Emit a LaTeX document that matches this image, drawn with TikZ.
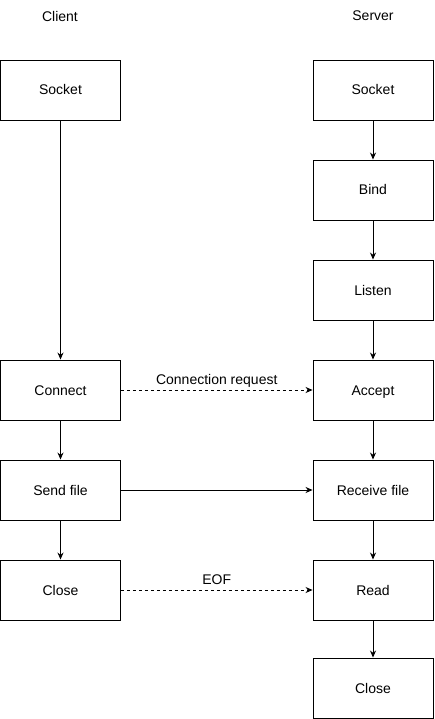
\documentclass[tikz,border=0pt]{standalone}
\usepackage{fontspec}
\setmainfont{Liberation Sans}
\usetikzlibrary{arrows.meta,calc}
\tikzset{flowFig/.style={x=1pt,y=-1pt,>={Stealth[length=7pt,width=6pt]},line width=0.9pt,
                    font=\fontsize{14}{16}\selectfont},
         stepbox/.style={draw,line width=0.9pt,minimum width=120pt,minimum height=60pt,inner sep=0pt,
                    text height=11pt,text depth=1pt},
         msglabel/.style={above=0pt,inner sep=2pt,text depth=3pt}}
\begin{document}
\begin{tikzpicture}[flowFig]
			\useasboundingbox (0,0) rectangle (434,719);
		    %CLIENT
			\node (client) at (60,16)     {Client};
			\node [stepbox] (cSocket) at (60.5,90)     {Socket};
			\node [stepbox] (cConnect) at (60.5,390)     {Connect};
			\node [stepbox] (cSend) at (60.5,490)     {Send file};
			\node [stepbox] (cClose) at (60.5,590)     {Close};
			%SERVER
			\node (server) at (373,16)     {Server};
			\node [stepbox] (sSocket) at (373,90)     {Socket};
			\node [stepbox] (sBind) at (373,190)     {Bind};
			\node [stepbox] (sListen) at (373,290)     {Listen};
			\node [stepbox] (sAccept) at (373,390)     {Accept};
			\node [stepbox] (sReceive) at (373,490)     {Receive file};
			\node [stepbox] (sRead) at (373,590)     {Read};
			\node [stepbox] (sClose) at (373,688)     {Close};
			
			%
			\path[->]
            %CLIENT
            (cSocket) edge (cConnect)
			(cConnect) edge (cSend)
			(cSend) edge (cClose)
            
            %SERVER
			(sSocket) edge (sBind)
			(sBind) edge (sListen)
			(sListen) edge (sAccept)
			(sAccept) edge (sReceive)
			(sReceive) edge (sRead)
			(sRead) edge (sClose)
			
			%MESSAGES
			(cConnect) edge [dashed] node [msglabel] {Connection request} (sAccept)
			(cSend) edge (sReceive)
			(cClose) edge [dashed] node [msglabel] {EOF} (sRead)
			;
		\end{tikzpicture}
\end{document}
